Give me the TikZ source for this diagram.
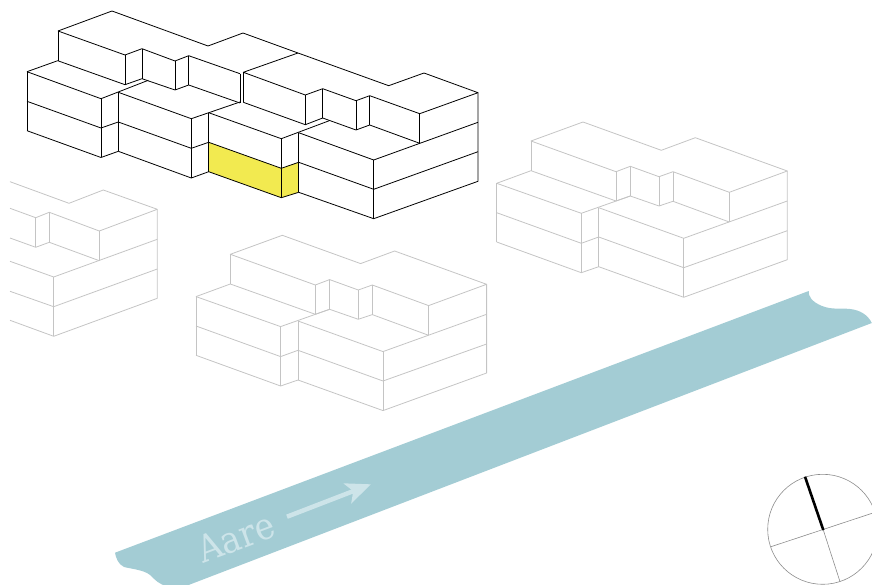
\documentclass[tikz,border=0pt]{standalone}
\usepackage{fontspec}
\setmainfont{DejaVu Serif}
\usetikzlibrary{arrows.meta}
\definecolor{riverblue}{HTML}{A3CCD4}
\definecolor{riverpale}{HTML}{CDE4E9}
\definecolor{housegrey}{HTML}{C4C4C4}
\definecolor{marked}{HTML}{F2EA50}
\tikzset{
  blackhouse/.style={draw=black,line width=0.8pt,line join=round},
  greyhouse/.style={draw=housegrey,line width=0.8pt,line join=round},
  compassline/.style={draw=black!45,line width=0.6pt},
}
\newcommand{\greyblock}{%
  \draw (531,141) -- (583,122) -- (661.3,150.3) -- (695.3,137.7) -- (787.3,171) -- (729.3,192.3) -- (673,171.7) -- (659,176.7) -- (630.3,166.3) -- (616,171.7) -- cycle;
  \draw (496.7,183.3) -- (531,170.7) -- (616,201) -- (630.3,196) -- (659,206) -- (673,201.3) -- (729.3,222);
  \draw (531,141) -- (531,170.7) (616,171.7) -- (616,201) (630.3,166.3) -- (630.3,196) (659,176.7) -- (659,206) (673,171.7) -- (673,201.3) (729.3,192.3) -- (729.3,222);
  \draw (496.7,183.3) -- (581.3,213.3) -- (630.3,196);
  \draw (496.7,212.7) -- (581.3,243.3) -- (598.7,237);
  \draw (496.7,242) -- (581.3,272.7) -- (598.7,266.7);
  \draw (496.7,183.3) -- (496.7,242) (581.3,213.3) -- (581.3,272.7) (598.7,207.7) -- (598.7,266.7);
  \draw (598.7,207.7) -- (683.7,238.3) -- (787.3,201);
  \draw (598.7,237) -- (683.7,267.7) -- (787.3,230.7);
  \draw (598.7,266.7) -- (683.7,297.3) -- (787.3,259.7) -- (787.3,171);
  \draw (683.7,238.3) -- (683.7,297.3);
}
\begin{document}
\begin{tikzpicture}[x=1pt,y=-1pt]
\useasboundingbox (0,0) rectangle (872,585);
\clip (0,0) rectangle (872,585);
% river
\fill[riverblue] (115,552.7) -- (808.7,291)
  .. controls (808,296) and (812,302) .. (822,306)
  .. controls (832,310) and (842,308) .. (850,309)
  .. controls (860,310) and (868,315) .. (871.8,323)
  -- (186,586) -- (167,586)
  .. controls (160,585) and (155,580) .. (150,575)
  .. controls (144,570) and (132,569) .. (124,567)
  .. controls (118,564) and (116,558) .. (115,552.7) -- cycle;
\node[text=riverpale,font=\fontsize{37}{37}\selectfont,rotate=20.6,anchor=center,inner sep=0pt] (aare) at (236,537.5) {\scalebox{0.9}[1]{Aare}};
\coordinate (flowstart) at (287,516.7);
\coordinate (flowend) at (371,484.3);
\draw[riverpale,line width=4.5pt,-{Stealth[length=25pt,width=21pt,inset=6pt]}] (flowstart) -- (flowend);
% marked unit
\fill[marked] (208.7,142.3) -- (281.3,168.3) -- (298.7,162.3) -- (298.7,192.3) -- (281.3,197.7) -- (208.7,171.7) -- cycle;
% main building
\begin{scope}[blackhouse]
  \draw (58,31) -- (112,11) -- (208,46) -- (243,33) -- (298,53) -- (388.7,85.7) -- (424,73) -- (478,92.7) -- (419.7,113.7) -- (369.7,95.7) -- (356,100.7) -- (322.7,88.7) -- (305.3,95) -- (243.3,72.3) -- (298,53);
  \draw (58,31) -- (125,55) -- (142,48.7) -- (175,61) -- (188.7,55.7) -- (240,73.7);
  \draw (27,71.7) -- (57.7,60.7) -- (125,84.7) -- (142,78.7) -- (175,90) -- (188.7,85) -- (240,103);
  \draw (58,31) -- (58,60.7) (125,55) -- (125,84.7) (142,48.7) -- (142,78.7) (175,61) -- (175,90) (188.7,55.7) -- (188.7,85) (240,73.7) -- (240,103) (243.3,72.3) -- (243.3,102.3);
  \draw (27,71.7) -- (101,98.7) -- (148.3,80.3);
  \draw (27,101.3) -- (101,128) -- (118.3,122);
  \draw (27,130.7) -- (101,157.5) -- (118.3,151.3);
  \draw (27,71.7) -- (27,130.7) (101,98.7) -- (101,157.5) (118.3,92.3) -- (118.3,151.3);
  \draw (118.3,92.3) -- (191.3,118.7) -- (240,102);
  \draw (118.3,122) -- (191.3,148.3) -- (208.7,142.3);
  \draw (118.3,151.3) -- (191.3,178) -- (208.7,171.7);
  \draw (191.3,118.7) -- (191.3,178) (208.7,112.7) -- (208.7,171.7);
  \draw (208.7,112.7) -- (281.3,138.7) -- (329.3,120.7);
  \draw (208.7,142.3) -- (281.3,168.3) -- (298.7,162.3);
  \draw (208.7,171.7) -- (281.3,197.7) -- (298.7,192.3);
  \draw (281.3,138.7) -- (281.3,197.7) (298.7,132.7) -- (298.7,192.3);
  \draw (243.3,102.3) -- (305.3,124.7) -- (322.7,118) -- (356,130) -- (369.7,125) -- (419.7,143.3);
  \draw (305.3,95) -- (305.3,124.7) (322.7,88.7) -- (322.7,118) (356,100.7) -- (356,130) (369.7,95.7) -- (369.7,125) (419.7,113.7) -- (419.7,143.3);
  \draw (298.7,132.7) -- (373.7,160) -- (478,122.3);
  \draw (298.7,162.3) -- (373.7,189.3) -- (478,151.7);
  \draw (298.7,192.3) -- (373.7,218.7) -- (478,181.3) -- (478,92.7);
  \draw (373.7,160) -- (373.7,218.7);
\end{scope}
% grey buildings
\begin{scope}[greyhouse]
  \greyblock
\end{scope}
\begin{scope}[greyhouse,shift={(-300.7,113.3)}]
  \greyblock
\end{scope}
\begin{scope}[greyhouse]
  \draw (10,181.7) -- (69,203.3) -- (103.3,190) -- (157.3,209.3) -- (99.3,231) -- (49.3,212.3) -- (35.7,217.7) -- (10,208.3);
  \draw (10,238) -- (35.7,247.3) -- (49.3,242.3) -- (99.3,260.7);
  \draw (35.7,217.7) -- (35.7,247.3) (49.3,212.3) -- (49.3,242.3) (99.3,231) -- (99.3,260.7);
  \draw (10,261.3) -- (53.7,277) -- (157.3,239.3);
  \draw (10,291.3) -- (53.7,306.7) -- (157.3,269);
  \draw (10,320.3) -- (53.7,336.3) -- (157.3,298.3) -- (157.3,209.3);
  \draw (53.7,277) -- (53.7,336.3);
\end{scope}
% compass
\coordinate (north) at (805,476.7);
\coordinate (hub) at (823.3,530);
\coordinate (south) at (840,581.7);
\coordinate (west) at (771,546.7);
\coordinate (east) at (872,513.3);
\node[compassline,circle,minimum size=110pt,inner sep=0pt] (dial) at (822.7,529.3) {};
\draw[compassline] (west) -- (east);
\draw[compassline] (hub) -- (south);
\draw[black,line width=2.6pt] (north) -- (hub);
\end{tikzpicture}
\end{document}
